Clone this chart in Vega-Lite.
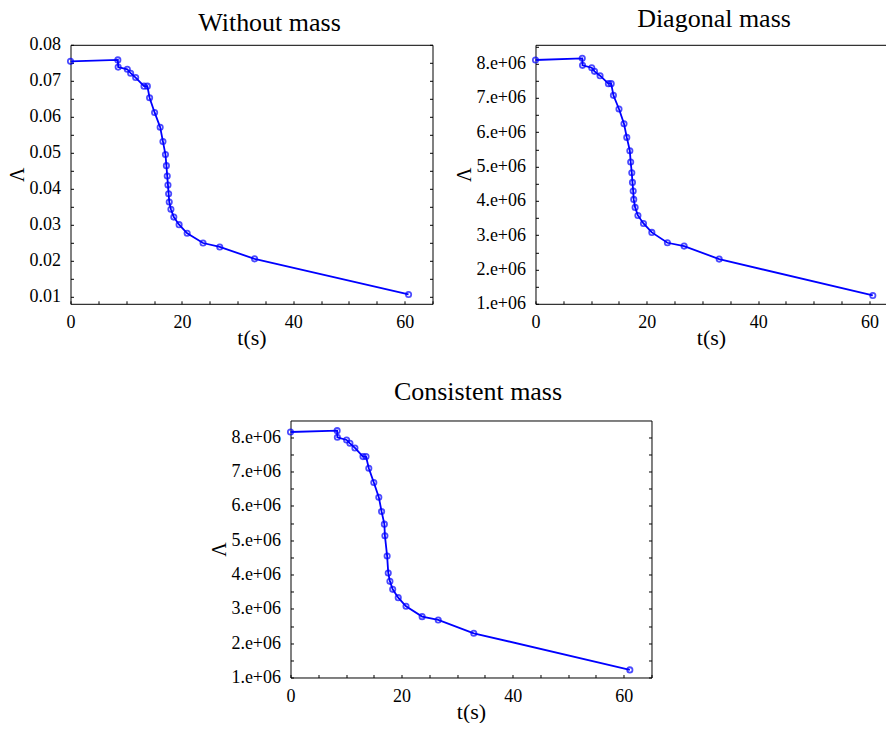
{
  "$schema": "https://vega.github.io/schema/vega-lite/v6.json",
  "padding": {"left": 6.5, "top": 5.8, "right": 0, "bottom": 0},
  "background": "white",
  "config": {
    "font": "Liberation Serif",
    "view": {"stroke": null},
    "axis": {
      "domainColor": "black", "domainWidth": 1, "tickColor": "black", "tickWidth": 1, "tickSize": -3,
      "labelFont": "Liberation Serif", "labelFontSize": 18, "labelColor": "black",
      "titleFont": "Liberation Serif", "titleFontWeight": "normal", "titleColor": "black",
      "grid": false, "labelFlush": false, "labelOverlap": false
    },
    "title": {"font": "Liberation Serif", "fontSize": 26, "fontWeight": "normal", "color": "black", "anchor": "middle"}
  },
  "datasets": {
    "without": [
      {"t": 0, "L": 0.0754}, {"t": 8.5, "L": 0.0758}, {"t": 8.56, "L": 0.0738}, {"t": 10.2, "L": 0.0732},
      {"t": 10.8, "L": 0.0721}, {"t": 11.7, "L": 0.0709}, {"t": 13.2, "L": 0.0685}, {"t": 13.8, "L": 0.0685},
      {"t": 14.2, "L": 0.0653}, {"t": 15.1, "L": 0.0612}, {"t": 16.1, "L": 0.0571}, {"t": 16.6, "L": 0.0531},
      {"t": 17.05, "L": 0.0495}, {"t": 17.22, "L": 0.0464}, {"t": 17.37, "L": 0.0435}, {"t": 17.5, "L": 0.041},
      {"t": 17.62, "L": 0.0386}, {"t": 17.73, "L": 0.0363}, {"t": 18.03, "L": 0.0343}, {"t": 18.55, "L": 0.0321},
      {"t": 19.5, "L": 0.03}, {"t": 20.95, "L": 0.0276}, {"t": 23.8, "L": 0.0249}, {"t": 26.8, "L": 0.0238},
      {"t": 33.05, "L": 0.0205}, {"t": 60.7, "L": 0.0106}
    ],
    "diagonal": [
      {"t": 0, "L": 8107000}, {"t": 8.4, "L": 8156000}, {"t": 8.45, "L": 7951000}, {"t": 10.1, "L": 7883000},
      {"t": 10.6, "L": 7776000}, {"t": 11.6, "L": 7650000}, {"t": 13.1, "L": 7417000}, {"t": 13.6, "L": 7417000},
      {"t": 14.0, "L": 7076000}, {"t": 15.0, "L": 6678000}, {"t": 15.9, "L": 6250000}, {"t": 16.4, "L": 5851000},
      {"t": 16.95, "L": 5463000}, {"t": 17.1, "L": 5132000}, {"t": 17.3, "L": 4821000}, {"t": 17.42, "L": 4539000},
      {"t": 17.55, "L": 4286000}, {"t": 17.65, "L": 4043000}, {"t": 17.9, "L": 3810000}, {"t": 18.4, "L": 3576000},
      {"t": 19.4, "L": 3343000}, {"t": 20.9, "L": 3081000}, {"t": 23.7, "L": 2779000}, {"t": 26.7, "L": 2682000},
      {"t": 33.0, "L": 2303000}, {"t": 60.6, "L": 1243000}
    ],
    "consistent": [
      {"t": 0, "L": 8155000}, {"t": 8.4, "L": 8194000}, {"t": 8.44, "L": 8000000}, {"t": 10.1, "L": 7922000},
      {"t": 10.7, "L": 7825000}, {"t": 11.6, "L": 7690000}, {"t": 13.05, "L": 7438000}, {"t": 13.6, "L": 7438000},
      {"t": 14.1, "L": 7098000}, {"t": 15.0, "L": 6681000}, {"t": 15.9, "L": 6255000}, {"t": 16.4, "L": 5838000},
      {"t": 16.9, "L": 5469000}, {"t": 17.0, "L": 5130000}, {"t": 17.4, "L": 4539000}, {"t": 17.6, "L": 4044000},
      {"t": 17.9, "L": 3802000}, {"t": 18.4, "L": 3569000}, {"t": 19.4, "L": 3327000}, {"t": 20.8, "L": 3075000},
      {"t": 23.7, "L": 2774000}, {"t": 26.6, "L": 2677000}, {"t": 33.0, "L": 2289000}, {"t": 61.1, "L": 1222000}
    ]
  },
  "bounds": "flush",
  "spacing": 375.7,
  "vconcat": [
    {
      "bounds": "flush",
      "spacing": 103,
      "hconcat": [
        {
          "width": 362, "height": 259,
          "title": {"text": "Without mass", "dx": 18, "offset": -0.4},
          "data": {"name": "without"},
          "layer": [
            {
              "mark": {"type": "line", "color": "#0000ff", "strokeWidth": 1.8},
              "encoding": {
                "x": {"field": "t", "type": "quantitative", "scale": {"domain": [0, 65], "nice": false, "zero": false},
                  "axis": {"orient": "bottom", "values": [0,5,10,15,20,25,30,35,40,45,50,55,60,65], "labelExpr": "datum.value % 20 === 0 ? datum.label : ''", "labelPadding": 13, "title": "t(s)", "titleFontSize": 22, "titlePadding": -4}},
                "y": {"field": "L", "type": "quantitative", "scale": {"domain": [0.008, 0.08], "nice": false, "zero": false},
                  "axis": {"orient": "left", "values": [0.01,0.015,0.02,0.025,0.03,0.035,0.04,0.045,0.05,0.055,0.06,0.065,0.07,0.075,0.08], "labelExpr": "abs(datum.value*100 - round(datum.value*100)) < 0.000001 ? format(datum.value, '.2f') : ''", "labelPadding": 13, "title": "Λ", "titleFontSize": 20, "titlePadding": 2}}
              }
            },
            {
              "mark": {"type": "point", "shape": "circle", "filled": false, "color": "#0000ff", "size": 28, "strokeWidth": 1.8},
              "encoding": {
                "x": {"field": "t", "type": "quantitative", "axis": {"orient": "top", "ticks": false, "labels": false, "title": null}},
                "y": {"field": "L", "type": "quantitative", "axis": {"orient": "right", "values": [0.01,0.015,0.02,0.025,0.03,0.035,0.04,0.045,0.05,0.055,0.06,0.065,0.07,0.075,0.08], "labels": false, "title": null}}
              }
            }
          ],
          "resolve": {"axis": {"x": "independent", "y": "independent"}}
        },
        {
          "width": 351, "height": 259,
          "title": {"text": "Diagonal mass", "dx": 3, "offset": 5.5},
          "data": {"name": "diagonal"},
          "layer": [
            {
              "mark": {"type": "line", "color": "#0000ff", "strokeWidth": 1.8},
              "encoding": {
                "x": {"field": "t", "type": "quantitative", "scale": {"domain": [0, 63.06], "nice": false, "zero": false},
                  "axis": {"orient": "bottom", "values": [0,5,10,15,20,25,30,35,40,45,50,55,60], "labelExpr": "datum.value % 20 === 0 ? datum.label : ''", "labelPadding": 13, "title": "t(s)", "titleFontSize": 22, "titlePadding": -4}},
                "y": {"field": "L", "type": "quantitative", "scale": {"domain": [1000000, 8550000], "nice": false, "zero": false},
                  "axis": {"orient": "left", "values": [1000000,1500000,2000000,2500000,3000000,3500000,4000000,4500000,5000000,5500000,6000000,6500000,7000000,7500000,8000000,8500000], "labelExpr": "datum.value % 1000000 === 0 ? (datum.value / 1000000) + '.e+06' : ''", "labelPadding": 13, "title": "Λ", "titleFontSize": 20, "titlePadding": 1}}
              }
            },
            {
              "mark": {"type": "point", "shape": "circle", "filled": false, "color": "#0000ff", "size": 28, "strokeWidth": 1.8},
              "encoding": {
                "x": {"field": "t", "type": "quantitative", "axis": {"orient": "top", "ticks": false, "labels": false, "title": null}},
                "y": {"field": "L", "type": "quantitative", "axis": null}
              }
            }
          ],
          "resolve": {"axis": {"x": "independent", "y": "independent"}}
        }
      ]
    },
    {
      "bounds": "flush",
      "spacing": 20,
      "hconcat": [
        {"width": 200, "height": 10, "data": {"values": []}, "mark": "point"},
        {
          "width": 361, "height": 257,
          "title": {"text": "Consistent mass", "dx": 7, "offset": 15.5},
          "data": {"name": "consistent"},
          "layer": [
            {
              "mark": {"type": "line", "color": "#0000ff", "strokeWidth": 1.8},
              "encoding": {
                "x": {"field": "t", "type": "quantitative", "scale": {"domain": [0, 65], "nice": false, "zero": false},
                  "axis": {"orient": "bottom", "values": [0,5,10,15,20,25,30,35,40,45,50,55,60,65], "labelExpr": "datum.value % 20 === 0 ? datum.label : ''", "labelPadding": 13, "title": "t(s)", "titleFontSize": 22, "titlePadding": -4}},
                "y": {"field": "L", "type": "quantitative", "scale": {"domain": [1000000, 8490000], "nice": false, "zero": false},
                  "axis": {"orient": "left", "values": [1000000,1500000,2000000,2500000,3000000,3500000,4000000,4500000,5000000,5500000,6000000,6500000,7000000,7500000,8000000], "labelExpr": "datum.value % 1000000 === 0 ? (datum.value / 1000000) + '.e+06' : ''", "labelPadding": 13, "title": "Λ", "titleFontSize": 20, "titlePadding": 1}}
              }
            },
            {
              "mark": {"type": "point", "shape": "circle", "filled": false, "color": "#0000ff", "size": 28, "strokeWidth": 1.8},
              "encoding": {
                "x": {"field": "t", "type": "quantitative", "axis": {"orient": "top", "ticks": false, "labels": false, "title": null}},
                "y": {"field": "L", "type": "quantitative", "axis": {"orient": "right", "values": [1000000,1500000,2000000,2500000,3000000,3500000,4000000,4500000,5000000,5500000,6000000,6500000,7000000,7500000,8000000], "labels": false, "title": null}}
              }
            }
          ],
          "resolve": {"axis": {"x": "independent", "y": "independent"}}
        }
      ]
    }
  ]
}
